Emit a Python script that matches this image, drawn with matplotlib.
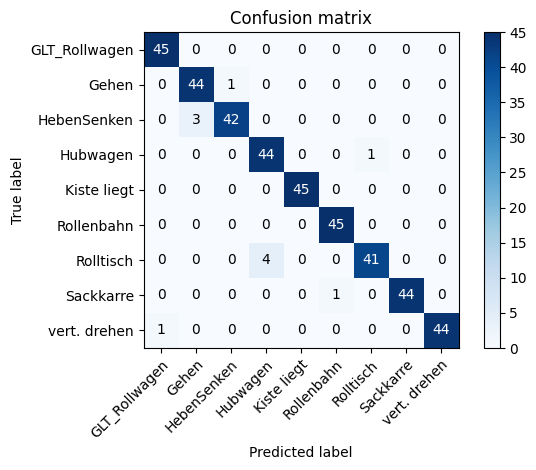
import numpy as np
import matplotlib
matplotlib.use("Agg")
import matplotlib.pyplot as plt

classes = ["GLT_Rollwagen", "Gehen", "HebenSenken", "Hubwagen", "Kiste liegt",
           "Rollenbahn", "Rolltisch", "Sackkarre", "vert. drehen"]

cm = np.array([
    [45, 0, 0, 0, 0, 0, 0, 0, 0],
    [0, 44, 1, 0, 0, 0, 0, 0, 0],
    [0, 3, 42, 0, 0, 0, 0, 0, 0],
    [0, 0, 0, 44, 0, 0, 1, 0, 0],
    [0, 0, 0, 0, 45, 0, 0, 0, 0],
    [0, 0, 0, 0, 0, 45, 0, 0, 0],
    [0, 0, 0, 4, 0, 0, 41, 0, 0],
    [0, 0, 0, 0, 0, 1, 0, 44, 0],
    [1, 0, 0, 0, 0, 0, 0, 0, 44],
])

W, H = 536., 470.
fig = plt.figure(figsize=(W / 100, H / 100), dpi=100)
ax = fig.add_axes([143.5 / W, (H - 348) / H, 315 / W, 316 / H])
cax = fig.add_axes([483.5 / W, (H - 348) / H, 16 / W, 316 / H])

im = ax.imshow(cm, interpolation='nearest', cmap=plt.cm.Blues, aspect='auto')
ax.set_title('Confusion matrix')
fig.colorbar(im, cax=cax)
tick_marks = np.arange(len(classes))
ax.set_xticks(tick_marks)
ax.set_xticklabels(classes, rotation=45, ha='right', rotation_mode='anchor')
ax.set_yticks(tick_marks)
ax.set_yticklabels(classes)

thresh = cm.max() / 2.
for i in range(cm.shape[0]):
    for j in range(cm.shape[1]):
        ax.text(j, i, format(cm[i, j], 'd'),
                horizontalalignment="center", verticalalignment="center",
                color="white" if cm[i, j] > thresh else "black")

ax.set_ylabel('True label')
ax.set_xlabel('Predicted label')
fig.savefig('out.png', dpi=100)
